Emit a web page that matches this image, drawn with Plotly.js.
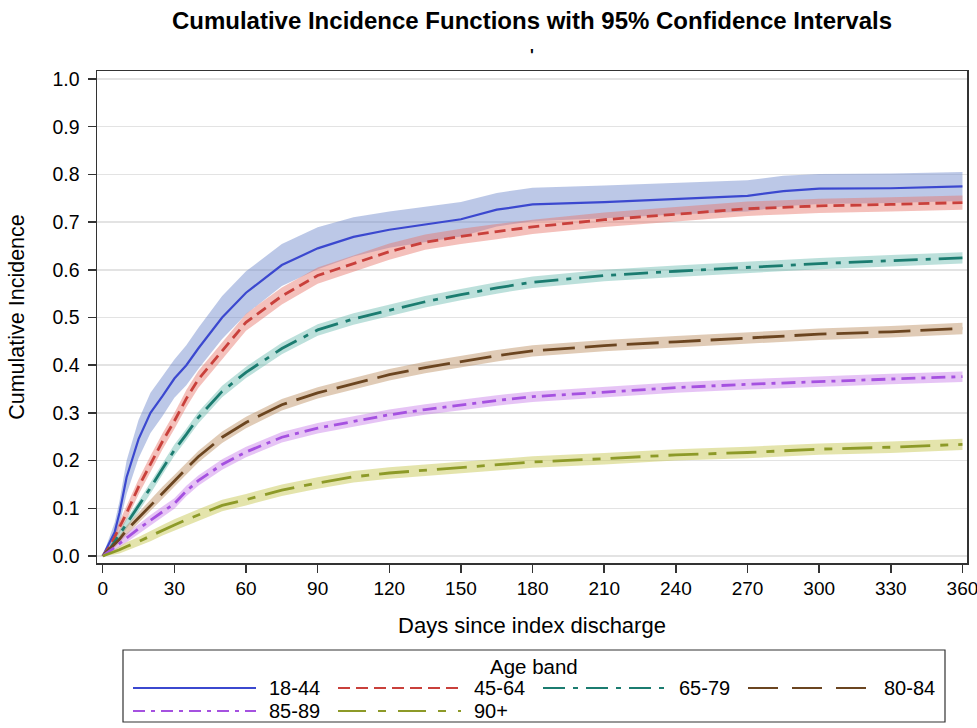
<!DOCTYPE html>
<html>
<head>
<meta charset="utf-8">
<script src="https://cdn.plot.ly/plotly-3.0.1.min.js"></script>
<style>
  html, body { margin: 0; padding: 0; background: #ffffff; }
  #chart { width: 977px; height: 728px; }
</style>
</head>
<body>
<div id="chart"></div>
<script>
// ---- Data ----
const days = [0, 3, 5, 7, 10, 15, 20, 25, 30, 35, 40, 50, 60, 75, 90, 105, 120, 135, 150, 165, 180, 210, 240, 270, 285, 300, 330, 360];

const ageBands = ["18-44", "45-64", "65-79", "80-84", "85-89", "90+"];

const cif_18_44 = [0, 0.03, 0.05, 0.09, 0.165, 0.245, 0.30, 0.335, 0.372, 0.40, 0.435, 0.50, 0.552, 0.61, 0.645, 0.669, 0.684, 0.695, 0.706, 0.726, 0.737, 0.742, 0.749, 0.755, 0.765, 0.77, 0.771, 0.775];
const upper_18_44 = [0, 0.045, 0.07, 0.115, 0.2, 0.285, 0.342, 0.377, 0.412, 0.442, 0.478, 0.545, 0.597, 0.654, 0.689, 0.71, 0.722, 0.732, 0.742, 0.761, 0.772, 0.777, 0.783, 0.788, 0.797, 0.801, 0.802, 0.805];
const lower_18_44 = [0, 0.015, 0.03, 0.065, 0.13, 0.205, 0.258, 0.293, 0.332, 0.358, 0.392, 0.455, 0.507, 0.566, 0.601, 0.628, 0.646, 0.658, 0.67, 0.691, 0.702, 0.708, 0.716, 0.722, 0.733, 0.738, 0.74, 0.744];

const cif_45_64 = [0, 0.02, 0.04, 0.06, 0.09, 0.145, 0.193, 0.24, 0.283, 0.33, 0.37, 0.43, 0.49, 0.545, 0.588, 0.613, 0.638, 0.658, 0.67, 0.68, 0.69, 0.705, 0.717, 0.728, 0.731, 0.734, 0.737, 0.741];
const upper_45_64 = [0, 0.028, 0.05, 0.073, 0.104, 0.161, 0.21, 0.257, 0.3, 0.348, 0.388, 0.448, 0.508, 0.563, 0.605, 0.63, 0.655, 0.674, 0.686, 0.696, 0.705, 0.72, 0.732, 0.743, 0.746, 0.749, 0.752, 0.756];
const lower_45_64 = [0, 0.012, 0.03, 0.047, 0.076, 0.129, 0.176, 0.223, 0.266, 0.312, 0.352, 0.412, 0.472, 0.527, 0.571, 0.596, 0.621, 0.642, 0.654, 0.664, 0.675, 0.69, 0.702, 0.713, 0.716, 0.719, 0.722, 0.726];

const cif_65_79 = [0, 0.015, 0.03, 0.045, 0.068, 0.104, 0.143, 0.183, 0.222, 0.255, 0.29, 0.345, 0.385, 0.435, 0.474, 0.497, 0.515, 0.533, 0.548, 0.562, 0.574, 0.588, 0.597, 0.605, 0.61, 0.613, 0.619, 0.625];
const upper_65_79 = [0, 0.021, 0.038, 0.054, 0.078, 0.115, 0.155, 0.195, 0.234, 0.267, 0.302, 0.357, 0.397, 0.447, 0.486, 0.509, 0.527, 0.545, 0.56, 0.574, 0.586, 0.6, 0.609, 0.617, 0.622, 0.625, 0.631, 0.637];
const lower_65_79 = [0, 0.009, 0.022, 0.036, 0.058, 0.093, 0.131, 0.171, 0.21, 0.243, 0.278, 0.333, 0.373, 0.423, 0.462, 0.485, 0.503, 0.521, 0.536, 0.55, 0.562, 0.576, 0.585, 0.593, 0.598, 0.601, 0.607, 0.613];

const cif_80_84 = [0, 0.015, 0.025, 0.035, 0.054, 0.08, 0.107, 0.133, 0.158, 0.183, 0.208, 0.249, 0.28, 0.317, 0.342, 0.361, 0.38, 0.395, 0.407, 0.42, 0.43, 0.441, 0.449, 0.457, 0.461, 0.465, 0.47, 0.477];
const upper_80_84 = [0, 0.02, 0.032, 0.043, 0.064, 0.091, 0.119, 0.145, 0.17, 0.195, 0.22, 0.261, 0.292, 0.329, 0.354, 0.373, 0.392, 0.407, 0.419, 0.432, 0.442, 0.453, 0.461, 0.469, 0.473, 0.477, 0.482, 0.489];
const lower_80_84 = [0, 0.01, 0.018, 0.027, 0.044, 0.069, 0.095, 0.121, 0.146, 0.171, 0.196, 0.237, 0.268, 0.305, 0.33, 0.349, 0.368, 0.383, 0.395, 0.408, 0.418, 0.429, 0.437, 0.445, 0.449, 0.453, 0.458, 0.465];

const cif_85_89 = [0, 0.01, 0.018, 0.026, 0.038, 0.057, 0.075, 0.093, 0.11, 0.136, 0.158, 0.192, 0.218, 0.249, 0.268, 0.282, 0.296, 0.307, 0.317, 0.326, 0.334, 0.343, 0.353, 0.36, 0.363, 0.366, 0.371, 0.376];
const upper_85_89 = [0, 0.015, 0.025, 0.034, 0.047, 0.067, 0.086, 0.104, 0.121, 0.147, 0.169, 0.203, 0.229, 0.26, 0.279, 0.293, 0.307, 0.318, 0.328, 0.337, 0.345, 0.354, 0.364, 0.371, 0.374, 0.377, 0.382, 0.387];
const lower_85_89 = [0, 0.005, 0.011, 0.018, 0.029, 0.047, 0.064, 0.082, 0.099, 0.125, 0.147, 0.181, 0.207, 0.238, 0.257, 0.271, 0.285, 0.296, 0.306, 0.315, 0.323, 0.332, 0.342, 0.349, 0.352, 0.355, 0.36, 0.365];

const cif_90p = [0, 0.005, 0.009, 0.013, 0.02, 0.03, 0.042, 0.054, 0.065, 0.076, 0.086, 0.106, 0.118, 0.138, 0.153, 0.166, 0.174, 0.18, 0.186, 0.192, 0.197, 0.204, 0.212, 0.217, 0.22, 0.224, 0.228, 0.234];
const upper_90p = [0, 0.009, 0.015, 0.021, 0.029, 0.04, 0.053, 0.065, 0.077, 0.088, 0.098, 0.118, 0.13, 0.15, 0.165, 0.178, 0.186, 0.192, 0.198, 0.204, 0.209, 0.216, 0.224, 0.229, 0.232, 0.236, 0.24, 0.246];
const lower_90p = [0, 0.001, 0.003, 0.005, 0.011, 0.02, 0.031, 0.043, 0.053, 0.064, 0.074, 0.094, 0.106, 0.126, 0.141, 0.154, 0.162, 0.168, 0.174, 0.18, 0.185, 0.192, 0.2, 0.205, 0.208, 0.212, 0.216, 0.222];

const xTickVals = [0, 30, 60, 90, 120, 150, 180, 210, 240, 270, 300, 330, 360];
const yTickVals = [0.0, 0.1, 0.2, 0.3, 0.4, 0.5, 0.6, 0.7, 0.8, 0.9, 1.0];

const legendTitle = "Age band";

// ---- Styles ----
const FONT = "Liberation Sans, Arial, sans-serif";
const series = [
  { name: ageBands[0], y: cif_18_44, lo: lower_18_44, hi: upper_18_44, color: "#3b48cf", band: "rgba(115,140,205,0.48)", dash: "solid", width: 2.2 },
  { name: ageBands[1], y: cif_45_64, lo: lower_45_64, hi: upper_45_64, color: "#c9403b", band: "rgba(230,115,105,0.45)", dash: "11px,6px", width: 2.8 },
  { name: ageBands[2], y: cif_65_79, lo: lower_65_79, hi: upper_65_79, color: "#1b7c70", band: "rgba(95,180,170,0.42)", dash: "24px,8px,5px,8px", width: 2.8 },
  { name: ageBands[3], y: cif_80_84, lo: lower_80_84, hi: upper_80_84, color: "#6b4520", band: "rgba(180,130,80,0.42)", dash: "32px,10px", width: 2.8 },
  { name: ageBands[4], y: cif_85_89, lo: lower_85_89, hi: upper_85_89, color: "#a551e0", band: "rgba(195,115,230,0.42)", dash: "14px,6px,4px,6px", width: 2.8 },
  { name: ageBands[5], y: cif_90p,  lo: lower_90p,  hi: upper_90p,  color: "#8d9a28", band: "rgba(195,195,70,0.45)", dash: "30px,10px,8px,10px", width: 2.8 }
];
// legend key styles (thinner, as drawn in the reference legend)
const legendDash = ["solid", "12px,6px", "22px,8px,5px,8px", "30px,14px", "12px,6px,4px,6px", "28px,12px,8px,12px"];

const traces = [];
series.forEach(s => {
  traces.push({ x: days, y: s.lo, type: "scatter", mode: "lines", line: { width: 0, color: s.band }, showlegend: false, hoverinfo: "skip" });
  traces.push({ x: days, y: s.hi, type: "scatter", mode: "lines", line: { width: 0, color: s.band }, fill: "tonexty", fillcolor: s.band, showlegend: false, hoverinfo: "skip" });
});
series.forEach(s => {
  traces.push({ x: days, y: s.y, name: s.name, type: "scatter", mode: "lines", line: { color: s.color, width: s.width, dash: s.dash }, showlegend: false });
});

// ---- Legend box (drawn as layout decoration, positioned in pixels) ----
const M = { l: 97, r: 10, t: 71, b: 165 };
const W = 977, H = 728;
const plotW = W - M.l - M.r, plotH = H - M.t - M.b;
const px2x = px => (px - M.l) / plotW;
const py2y = py => (H - M.b - py) / plotH;

const shapes = [];
const annotations = [];
shapes.push({ type: "rect", xref: "paper", yref: "paper", x0: px2x(123), x1: px2x(945), y0: py2y(722), y1: py2y(650),
  line: { color: "#333333", width: 1.2 }, fillcolor: "rgba(0,0,0,0)" });
annotations.push({ text: legendTitle, xref: "paper", yref: "paper", x: px2x(534), y: py2y(666), xanchor: "center", yanchor: "middle",
  showarrow: false, font: { family: FONT, size: 20.5, color: "#000000" } });
series.forEach((s, i) => {
  const col = i % 4, row = Math.floor(i / 4);
  const lx0 = 133 + 205 * col, lx1 = 256 + 205 * col;
  const ly = row === 0 ? 688 : 711;
  shapes.push({ type: "line", xref: "paper", yref: "paper", x0: px2x(lx0), x1: px2x(lx1), y0: py2y(ly), y1: py2y(ly),
    line: { color: s.color, width: 2, dash: legendDash[i] } });
  annotations.push({ text: s.name, xref: "paper", yref: "paper", x: px2x(lx1 + 11), y: py2y(ly), xanchor: "left", yanchor: "middle",
    showarrow: false, font: { family: FONT, size: 20, color: "#000000" } });
});
annotations.push({ text: "<b>'</b>", xref: "paper", yref: "paper", x: 0.5, y: py2y(45), showarrow: false,
  font: { family: FONT, size: 16, color: "#000000" } });

const layout = {
  width: W, height: H,
  margin: { l: M.l, r: M.r, t: M.t, b: M.b, autoexpand: false },
  paper_bgcolor: "#ffffff", plot_bgcolor: "#ffffff",
  font: { family: FONT, color: "#000000", size: 19 },
  title: {
    text: "<b>Cumulative Incidence Functions with 95% Confidence Intervals</b>",
    font: { family: FONT, size: 24, color: "#000000" },
    xref: "paper", x: 0.5, xanchor: "center",
    yref: "container", y: 0.972, yanchor: "middle"
  },
  xaxis: {
    range: [-2.4, 361.9],
    tickvals: xTickVals, ticktext: xTickVals.map(String),
    ticks: "outside", ticklen: 8, tickwidth: 1.5, tickcolor: "#333333",
    ticklabelstandoff: 0, ticklabeloverflow: "allow",
    showline: true, linecolor: "#333333", linewidth: 1.5, mirror: true,
    showgrid: false, zeroline: false,
    tickfont: { family: FONT, size: 19, color: "#000000" },
    title: { text: "Days since index discharge", font: { family: FONT, size: 22, color: "#000000" }, standoff: 19 }
  },
  yaxis: {
    range: [-0.0147, 1.0168],
    tickvals: yTickVals, ticktext: yTickVals.map(v => v.toFixed(1)),
    ticks: "outside", ticklen: 8, tickwidth: 1.5, tickcolor: "#333333",
    ticklabelstandoff: 4, ticklabeloverflow: "allow",
    showline: true, linecolor: "#333333", linewidth: 1.5, mirror: true,
    showgrid: true, gridcolor: "#e3e3e3", gridwidth: 1.5, zeroline: false,
    tickfont: { family: FONT, size: 19.5, color: "#000000" },
    title: { text: "Cumulative Incidence", font: { family: FONT, size: 21.5, color: "#000000" }, standoff: 22 }
  },
  shapes: shapes,
  annotations: annotations,
  showlegend: false
};

Plotly.newPlot("chart", traces, layout, { displayModeBar: false, staticPlot: true });
</script>
</body>
</html>
